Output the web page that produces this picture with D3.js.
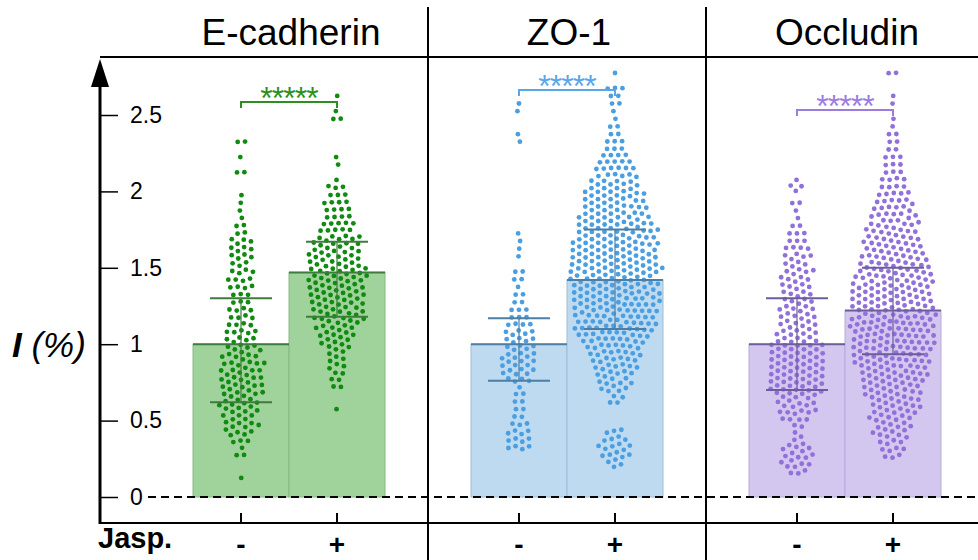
<!DOCTYPE html>
<html>
<head>
<meta charset="utf-8">
<script src="https://cdn.jsdelivr.net/npm/d3@7/dist/d3.min.js"></script>
<style>
  body { margin:0; background:#fff; font-family: Helvetica, Arial, "Liberation Sans", sans-serif; }
  svg { display:block; }
</style>
</head>
<body>
<svg id="chart" width="978" height="560"></svg>
<script>
// ---- data ----
const proteins = ["E-cadherin", "ZO-1", "Occludin"];
const treatments = ["-", "+"];
const yTicks = [0, 0.5, 1, 1.5, 2, 2.5];

// bar heights (mean) and whisker ends, one value per protein
const meanMinus = [1.0, 1.0, 1.0];
const meanPlus = [1.47, 1.42, 1.22];
const lowMinus = [0.62, 0.76, 0.70];
const highMinus = [1.30, 1.17, 1.30];
const lowPlus = [1.18, 1.10, 0.935];
const highPlus = [1.67, 1.75, 1.50];
const bracketLevel = [2.585, 2.664, 2.533];

// cell counts per 0.05 bin of I (index i covers [0.05*i, 0.05*i+0.05))
const binStep = 0.05;
const ecadMinus = [0,0,1,0,0,2,1,3,4,6, 6,6,7,7,7,7,7,7,6,6, 5,5,4,4,4,3,3,4,4,4, 3,4,4,4,2,2,1,1,1,1, 0,0,2,0,1,0,2];
const ecadPlus = [0,0,0,0,0,0,0,0,0,0, 0,1,0,0,2,2,2,3,3,4, 5,6,7,8,9,10,10,11,11,11, 10,9,8,7,5,5,4,4,4,3, 3,1,0,1,1,0,0,0,0,2, 1,0,1];
const zo1Minus = [0,0,0,0,0,0,4,4,4,3, 2,2,2,2,1,4,6,6,6,5, 5,5,4,3,3,2,2,1,2,2, 0,1,1,1,1,0,0,0,0,0, 0,0,0,0,0,0,1,1,0,0, 1,1];
const zo1Plus = [0,0,0,0,3,6,6,4,3,0, 0,0,2,2,4,5,6,7,8,9, 10,12,14,15,16,16,17,17,17,17, 16,16,15,15,14,13,12,11,10,9, 8,7,6,5,4,3,3,2,2,1, 1,2,2,3,0,1];
const occlMinus = [0,0,0,3,6,6,5,2,1,2, 4,6,7,8,9,10,10,10,10,9, 8,7,6,6,6,5,5,5,5,5, 4,5,4,3,3,2,1,1,2,0, 3,1];
const occlPlus = [0,0,0,0,0,3,4,5,6,6, 7,7,8,8,9,10,11,13,14,15, 16,16,16,16,16,15,15,14,13,12, 12,11,10,9,9,8,7,6,5,5, 4,4,3,3,3,2,2,2,1,1, 0,1,1,0,0,2];

const countsMinus = [ecadMinus, zo1Minus, occlMinus];
const countsPlus = [ecadPlus, zo1Plus, occlPlus];

// colours per protein
const pointColor = ["#108a10", "#4b9fe1", "#9170d9"];
const fillColor = ["#9fd39b", "#bddaf1", "#d3c7ef"];
const edgeColor = ["#86b883", "#9dbcd5", "#b8abd9"];
const barLineColor = ["#3f7b3d", "#4e7ea4", "#6c5d9b"];
const starColor = ["#2c8f1e", "#5aa6e6", "#9b7de0"];

// ---- drawing ----
const svg = d3.select("#chart");
const W = 978, H = 560;
const font = "Helvetica, Arial, 'Liberation Sans', sans-serif";

const y = d3.scaleLinear().domain([0, 2.5]).range([497, 115]);
const panel = d3.scaleBand().domain(proteins).range([150, 984]);
const barW = 96;
const xSub = d3.scaleBand().domain(treatments).range([-barW, barW]);

const barX = (p, t) => panel(p) + panel.bandwidth() / 2 + xSub(t);
const barC = (p, t) => barX(p, t) + barW / 2;

const bars = [];
proteins.forEach((p, i) => {
  bars.push({ p, i, t: "-", mean: meanMinus[i], lo: lowMinus[i], hi: highMinus[i], counts: countsMinus[i] });
  bars.push({ p, i, t: "+", mean: meanPlus[i], lo: lowPlus[i], hi: highPlus[i], counts: countsPlus[i] });
});

// titles
svg.selectAll("text.title").data(proteins).enter().append("text")
  .attr("class", "title")
  .attr("x", d => panel(d) + panel.bandwidth() / 2 + 2)
  .attr("y", 45)
  .attr("text-anchor", "middle")
  .style("font", `37px ${font}`)
  .text(d => d);

// bar fills
const gBars = svg.append("g");
gBars.selectAll("rect").data(bars).enter().append("rect")
  .attr("x", d => barX(d.p, d.t))
  .attr("y", d => y(d.mean))
  .attr("width", barW)
  .attr("height", d => y(0) - y(d.mean))
  .attr("fill", d => fillColor[d.i])
  .attr("stroke", d => edgeColor[d.i])
  .attr("stroke-width", 1);

// zero dashed line
svg.append("line")
  .attr("x1", 148).attr("x2", W)
  .attr("y1", y(0)).attr("y2", y(0))
  .attr("stroke", "#000").attr("stroke-width", 2)
  .attr("stroke-dasharray", "8,5");

// beeswarm points (force layout: pulled to bin value, pushed apart)
const r = 2.4;
const gPts = svg.append("g");
bars.forEach(b => {
  const cx = barC(b.p, b.t);
  const nodes = [];
  b.counts.forEach((n, bin) => {
    const ty = y((bin + 0.5) * binStep);
    for (let k = 0; k < n; k++) {
      const u = (k * 0.618034 + bin * 0.3) % 1;
      const w = (k * 0.381966 + bin * 0.7) % 1;
      nodes.push({ tx: cx, ty, x: cx + (u - 0.5) * (4 + n * 4), y: ty + (w - 0.5) * 7 });
    }
  });
  const sim = d3.forceSimulation(nodes)
    .force("x", d3.forceX(cx).strength(0.02))
    .force("y", d3.forceY(d => d.ty).strength(0.06))
    .force("c", d3.forceCollide(r + 1.3).strength(0.6).iterations(2))
    .stop();
  for (let t = 0; t < 120; t++) sim.tick();
  gPts.selectAll(null).data(nodes).enter().append("circle")
    .attr("cx", d => d.x).attr("cy", d => d.y).attr("r", r)
    .attr("fill", pointColor[b.i]);
});

// bar top lines + error bars
const gErr = svg.append("g");
bars.forEach(b => {
  const x0 = barX(b.p, b.t), cx = barC(b.p, b.t), c = barLineColor[b.i];
  gErr.append("line").attr("x1", x0).attr("x2", x0 + barW).attr("y1", y(b.mean)).attr("y2", y(b.mean))
    .attr("stroke", c).attr("stroke-width", 2);
  gErr.append("line").attr("x1", cx).attr("x2", cx).attr("y1", y(b.lo)).attr("y2", y(b.hi))
    .attr("stroke", c).attr("stroke-width", 1.2);
  [b.lo, b.hi].forEach(v => {
    gErr.append("line").attr("x1", cx - 31).attr("x2", cx + 31).attr("y1", y(v)).attr("y2", y(v))
      .attr("stroke", c).attr("stroke-width", 2);
  });
});

// significance brackets
proteins.forEach((p, i) => {
  const x1 = barC(p, "-"), x2 = barC(p, "+"), yy = y(bracketLevel[i]);
  svg.append("path")
    .attr("d", `M${x1},${yy + 6}V${yy}H${x2}V${yy + 6}`)
    .attr("fill", "none").attr("stroke", starColor[i]).attr("stroke-width", 2);
  svg.append("text")
    .attr("x", (x1 + x2) / 2).attr("y", yy + 7)
    .attr("text-anchor", "middle")
    .attr("fill", starColor[i])
    .style("font", `32px ${font}`)
    .style("letter-spacing", "-1px")
    .text("*****");
});

// frame lines
svg.append("line").attr("x1", 100).attr("x2", W).attr("y1", 57).attr("y2", 57)
  .attr("stroke", "#000").attr("stroke-width", 2);
svg.append("line").attr("x1", 100).attr("x2", W).attr("y1", 523).attr("y2", 523)
  .attr("stroke", "#000").attr("stroke-width", 2);
[428, 706].forEach(xv => {
  svg.append("line").attr("x1", xv).attr("x2", xv).attr("y1", 7).attr("y2", H)
    .attr("stroke", "#000").attr("stroke-width", 2);
});

// y axis with arrow
svg.append("line").attr("x1", 100).attr("x2", 100).attr("y1", 80).attr("y2", 524)
  .attr("stroke", "#000").attr("stroke-width", 3);
svg.append("path").attr("d", "M100,59L109,87L91,87Z").attr("fill", "#000");

const yAxis = svg.append("g").attr("transform", "translate(101,0)")
  .call(d3.axisRight(y).tickValues(yTicks).tickSize(17).tickPadding(12)
    .tickFormat(d => d3.format("")(d)));
yAxis.select(".domain").remove();
yAxis.selectAll(".tick line").attr("stroke", "#000").attr("stroke-width", 1.5);
yAxis.selectAll(".tick text").style("font", `23px ${font}`).attr("fill", "#000");

// x ticks and labels
bars.forEach(b => {
  const cx = barC(b.p, b.t);
  svg.append("line").attr("x1", cx).attr("x2", cx).attr("y1", 513).attr("y2", 523)
    .attr("stroke", "#000").attr("stroke-width", 2);
  svg.append("text").attr("x", cx).attr("y", 554).attr("text-anchor", "middle")
    .style("font", `bold 28px ${font}`).text(b.t);
});

svg.append("text").attr("x", 98).attr("y", 548)
  .style("font", `bold 29px ${font}`).text("Jasp.");

const yl = svg.append("text").attr("x", 12).attr("y", 357).style("font", `italic 35px ${font}`);
yl.append("tspan").style("font-weight", "bold").text("I");
yl.append("tspan").text(" (%)");
</script>
</body>
</html>
